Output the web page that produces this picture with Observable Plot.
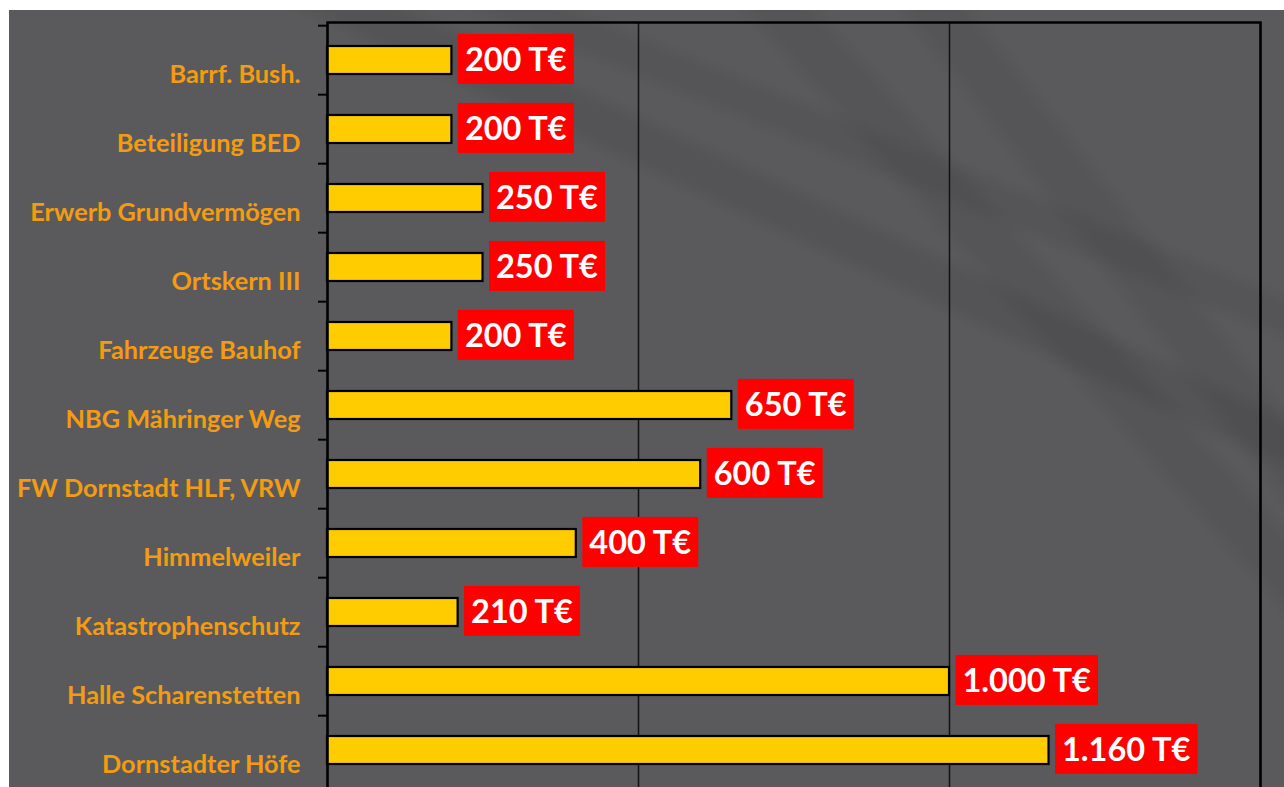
<!DOCTYPE html>
<html>
<head>
<meta charset="utf-8">
<script src="https://cdn.jsdelivr.net/npm/d3@7"></script>
<script src="https://cdn.jsdelivr.net/npm/@observablehq/plot@0.6"></script>
<style>
  html, body { margin: 0; padding: 0; background: #ffffff; overflow: hidden; }
  #wrap { position: relative; width: 1284px; height: 787px; overflow: hidden; background: #ffffff; }
  #bg {
    position: absolute; left: 9px; top: 10px; right: 0; bottom: 0;
    background:
      linear-gradient(25deg, transparent 66%, rgba(0,0,0,0.07) 67.5%, rgba(0,0,0,0.07) 69.5%, transparent 71%),
      linear-gradient(22deg, transparent 74%, rgba(0,0,0,0.06) 75.5%, rgba(0,0,0,0.06) 77%, transparent 78.5%),
      linear-gradient(48deg, transparent 72%, rgba(0,0,0,0.06) 73.5%, rgba(0,0,0,0.06) 75.5%, transparent 77%),
      linear-gradient(52deg, transparent 79%, rgba(0,0,0,0.06) 80.5%, rgba(0,0,0,0.06) 82.5%, transparent 84%),
      #5a5a5c;
  }
  #chart { position: absolute; left: 0; top: 0; }
</style>
</head>
<body>
<div id="wrap"><div id="bg"></div><div id="chart"></div></div>
<script>
const categories = [
  "Barrf. Bush.",
  "Beteiligung BED",
  "Erwerb Grundvermögen",
  "Ortskern III",
  "Fahrzeuge Bauhof",
  "NBG Mähringer Weg",
  "FW Dornstadt HLF, VRW",
  "Himmelweiler",
  "Katastrophenschutz",
  "Halle Scharenstetten",
  "Dornstadter Höfe"
];
const values = [200, 200, 250, 250, 200, 650, 600, 400, 210, 1000, 1160];
const unit = " T€";
const xTicks = [0, 500, 1000, 1500];

const data = categories.map((name, i) => ({name, value: values[i]}));
const fmt = d3.formatLocale({decimal: ",", thousands: ".", grouping: [3], currency: ["", "€"]}).format(",d");

const W = 1284, H = 800, mTop = 22, mBottom = 12;
const step = (H - mTop - mBottom) / categories.length;

const chart = Plot.plot({
  width: W,
  height: H,
  marginLeft: 327,
  marginRight: 24,
  marginTop: mTop,
  marginBottom: mBottom,
  style: {background: "transparent", fontFamily: "Lato, 'Open Sans', sans-serif"},
  x: {domain: [0, 1500], axis: null},
  y: {domain: categories, paddingInner: 0.6, paddingOuter: 0.3, axis: null},
  marks: [
    Plot.gridX(xTicks, {stroke: "#111", strokeOpacity: 1, strokeWidth: 1.5}),
    Plot.barX(data, {x: "value", y: "name", fill: "#FFCC00", stroke: "#000", strokeWidth: 2.2}),
    Plot.frame({stroke: "#000", strokeWidth: 2.5}),
    Plot.axisY({tickSize: 9, tickFormat: () => "", label: null, stroke: "#000", strokeWidth: 2, dy: -step / 2}),
    Plot.text(data, {
      x: 0, y: "name", text: "name", dx: -27, dy: 14, textAnchor: "end",
      fill: "#F39C12", fontSize: 25.3, fontWeight: "bold"
    }),
    Plot.text(data, {
      x: "value", y: "name", text: d => fmt(d.value) + unit, dx: 13, textAnchor: "start",
      fill: "#ffffff", fontSize: 32.5, fontWeight: "bold"
    })
  ]
});
document.getElementById("chart").appendChild(chart);

// red label boxes behind the value texts (last text mark group)
const svgNS = "http://www.w3.org/2000/svg";
const textGroups = chart.querySelectorAll('g[aria-label="text"]');
const valueGroup = textGroups[textGroups.length - 1];
valueGroup.querySelectorAll("text").forEach(t => {
  const bb = t.getBBox();
  const r = document.createElementNS(svgNS, "rect");
  const cy = bb.y + bb.height / 2 + 0.5;
  r.setAttribute("x", bb.x - 7);
  r.setAttribute("y", cy - 25);
  r.setAttribute("width", bb.width + 14);
  r.setAttribute("height", 50);
  r.setAttribute("fill", "#FF0000");
  r.setAttribute("stroke", "none");
  if (t.getAttribute("transform")) r.setAttribute("transform", t.getAttribute("transform"));
  t.parentNode.insertBefore(r, t);
});
</script>
</body>
</html>
